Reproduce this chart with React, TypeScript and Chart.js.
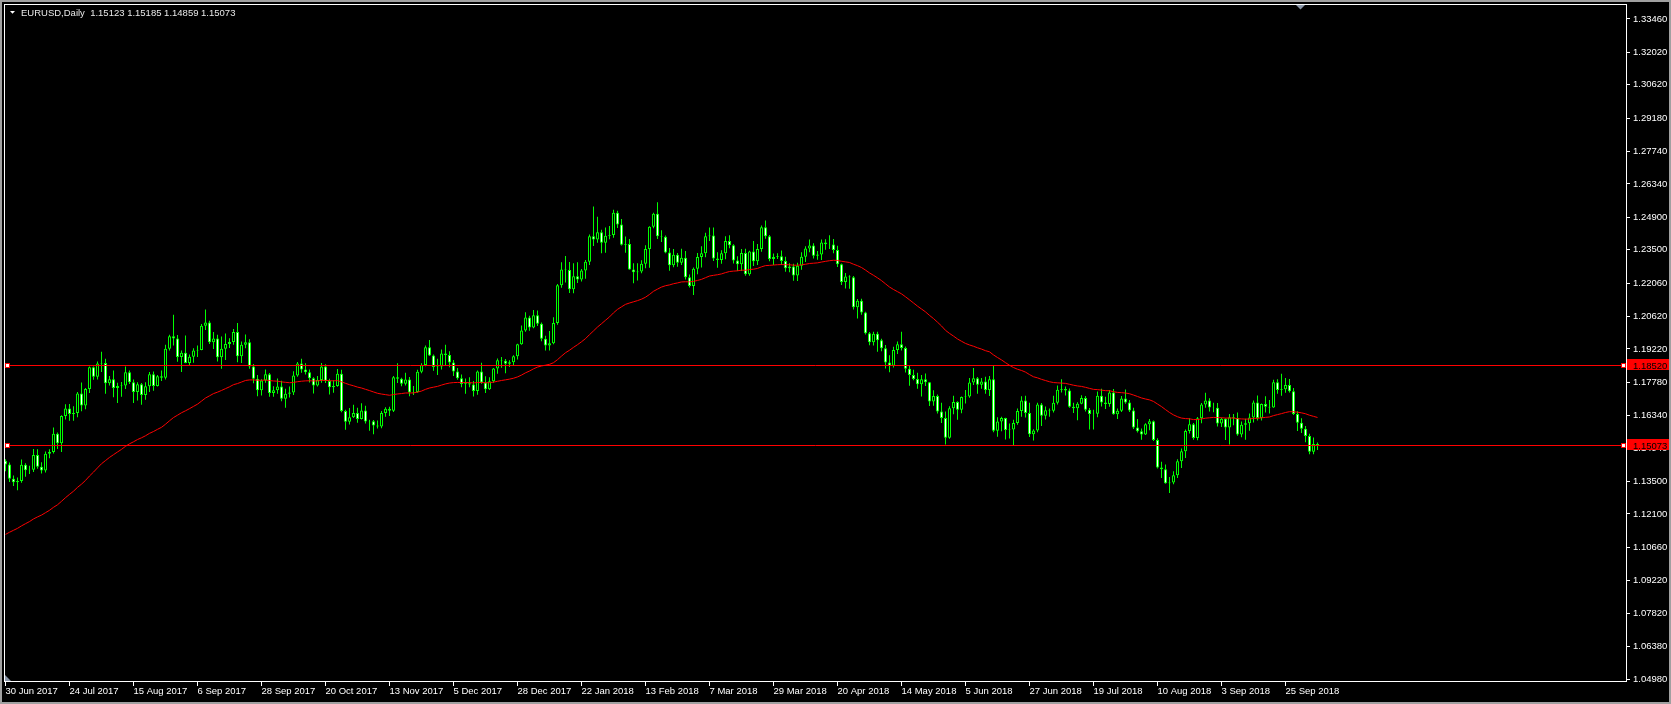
import React, { useEffect, useRef } from 'react';
import { Chart, registerables } from 'chart.js';

Chart.register(...registerables);

// ---------------- DATA ----------------
const symbolTitle = 'EURUSD,Daily';
const headerOHLC = ['1.15123', '1.15185', '1.14859', '1.15073'];
const firstOpen = 1.144;
const maPeriod = 50; // exponential moving average (MT4 "Moving Average", EMA 50)
const maSeed = 1.07; // EMA value before the warm-up closes

// closes before the first visible bar (warm-up of the moving average)
const priorCloses = [
  1.0855, 1.0933, 1.0884, 1.0874, 1.0895, 1.0903, 1.093, 1.088, 1.0982, 1.0999,
  1.0925, 1.0875, 1.0866, 1.086, 1.0932, 1.0981, 1.1077, 1.1158, 1.1102, 1.1206,
  1.1242, 1.1182, 1.1184, 1.1214, 1.1182, 1.1164, 1.1178, 1.1244, 1.1212, 1.1282,
  1.1256, 1.1274, 1.126, 1.1213, 1.1197, 1.1206, 1.1211, 1.1215, 1.1151, 1.1197,
  1.1149, 1.1134, 1.1167, 1.115, 1.1196, 1.1181, 1.1337, 1.1374, 1.144,
];

const closes = [
  1.1424, 1.1362, 1.1347, 1.1352, 1.1422, 1.1399, 1.1401, 1.1465, 1.1414, 1.1398,
  1.147, 1.1477, 1.1556, 1.1515, 1.1633, 1.1665, 1.1642, 1.1646, 1.173, 1.1678,
  1.1749, 1.1843, 1.1802, 1.1859, 1.1862, 1.1774, 1.1791, 1.1754, 1.1762, 1.1765,
  1.1822, 1.1779, 1.1736, 1.177, 1.1724, 1.1761, 1.1813, 1.1762, 1.1804, 1.1798,
  1.1923, 1.1977, 1.1967, 1.1887, 1.1906, 1.1862, 1.1889, 1.1915, 1.1918, 1.2022,
  1.2036, 1.1951, 1.1967, 1.1886, 1.1923, 1.1944, 1.1952, 1.1995, 1.1891, 1.194,
  1.1951, 1.1846, 1.1794, 1.1744, 1.1786, 1.1813, 1.1732, 1.1744, 1.176, 1.1707,
  1.1729, 1.1734, 1.1808, 1.1859, 1.1834, 1.1822, 1.1796, 1.1765, 1.1788, 1.1846,
  1.1784, 1.1757, 1.1762, 1.1815, 1.1654, 1.1608, 1.1627, 1.1646, 1.162, 1.1657,
  1.1609, 1.161, 1.1592, 1.1588, 1.1646, 1.1664, 1.1655, 1.18, 1.1794, 1.1772,
  1.179, 1.1734, 1.1736, 1.1824, 1.1853, 1.193, 1.1894, 1.1844, 1.1846, 1.1903,
  1.1896, 1.1864, 1.1825, 1.1796, 1.1771, 1.1774, 1.1769, 1.1741, 1.1825, 1.1777,
  1.1748, 1.1783, 1.1838, 1.1873, 1.1871, 1.1858, 1.1865, 1.1891, 1.1942, 1.2002,
  1.2058, 1.2015, 1.2068, 1.2031, 1.1966, 1.1937, 1.1947, 1.2034, 1.2197, 1.2265,
  1.2263, 1.218, 1.2236, 1.2222, 1.2261, 1.2298, 1.2408, 1.2395, 1.2426, 1.2381,
  1.2411, 1.2414, 1.251, 1.2459, 1.2372, 1.2375, 1.2265, 1.2253, 1.2256, 1.229,
  1.2354, 1.2449, 1.2506, 1.2408, 1.2406, 1.2338, 1.2283, 1.2329, 1.2294, 1.2316,
  1.2232, 1.2194, 1.2268, 1.2319, 1.2335, 1.2408, 1.2412, 1.2313, 1.2306, 1.2335,
  1.2388, 1.237, 1.2304, 1.2288, 1.2336, 1.2245, 1.2343, 1.2301, 1.2353, 1.2447,
  1.2408, 1.231, 1.2319, 1.2322, 1.2302, 1.227, 1.2278, 1.2239, 1.2281, 1.232,
  1.2356, 1.2369, 1.2324, 1.233, 1.2382, 1.2374, 1.2373, 1.2349, 1.2288, 1.2211,
  1.2235, 1.2232, 1.2102, 1.213, 1.2079, 1.199, 1.1951, 1.1988, 1.196, 1.1925,
  1.1864, 1.185, 1.1918, 1.1942, 1.1926, 1.1837, 1.181, 1.1793, 1.177, 1.1792,
  1.1779, 1.1695, 1.1719, 1.1652, 1.1624, 1.1539, 1.1666, 1.1693, 1.166, 1.1715,
  1.1717, 1.1777, 1.1796, 1.1768, 1.1782, 1.1745, 1.1791, 1.1569, 1.1609, 1.1624,
  1.1572, 1.1575, 1.1603, 1.1654, 1.17, 1.1646, 1.1554, 1.157, 1.1683, 1.1634,
  1.1658, 1.1656, 1.169, 1.1746, 1.1749, 1.1743, 1.1673, 1.1666, 1.1686, 1.1711,
  1.166, 1.1642, 1.1643, 1.172, 1.1691, 1.1685, 1.1734, 1.164, 1.1656, 1.1708,
  1.1691, 1.1657, 1.1583, 1.1567, 1.1553, 1.1597, 1.161, 1.1529, 1.1411, 1.1403,
  1.1343, 1.1346, 1.1377, 1.1438, 1.1481, 1.1568, 1.1597, 1.1538, 1.1623, 1.1682,
  1.17, 1.167, 1.1668, 1.16, 1.1621, 1.1583, 1.1627, 1.1624, 1.1553, 1.1595,
  1.1602, 1.1626, 1.1691, 1.1624, 1.1685, 1.1673, 1.167, 1.1779, 1.1745, 1.1748,
  1.1767, 1.174, 1.1641, 1.1604, 1.1578, 1.1547, 1.1479, 1.15123, 1.15073,
];

const highs = [
  1.1446, 1.1432, 1.1376, 1.1368, 1.1445, 1.1429, 1.1418, 1.149, 1.1489, 1.1433,
  1.148, 1.1489, 1.1583, 1.1562, 1.1636, 1.1684, 1.1685, 1.1675, 1.1736, 1.1777,
  1.1754, 1.1847, 1.1846, 1.1868, 1.191, 1.188, 1.1805, 1.1829, 1.1776, 1.178,
  1.1846, 1.1829, 1.179, 1.1779, 1.1775, 1.1779, 1.1823, 1.1825, 1.181, 1.1829,
  1.194, 1.1984, 1.207, 1.1982, 1.1915, 1.198, 1.1898, 1.1925, 1.1937, 1.203,
  1.2092, 1.2044, 1.1995, 1.1984, 1.1976, 1.1989, 1.1968, 1.2008, 1.2034, 1.1954,
  1.1985, 1.1964, 1.1857, 1.181, 1.1791, 1.1833, 1.1818, 1.1761, 1.1795, 1.1785,
  1.175, 1.176, 1.1826, 1.1866, 1.188, 1.1861, 1.1834, 1.18, 1.1806, 1.1862,
  1.1856, 1.1794, 1.1787, 1.1836, 1.1832, 1.166, 1.1667, 1.1681, 1.1669, 1.1688,
  1.1677, 1.1617, 1.1616, 1.1614, 1.1654, 1.1671, 1.1673, 1.1806, 1.1861, 1.1798,
  1.182, 1.1801, 1.1762, 1.1832, 1.1861, 1.1937, 1.1961, 1.1898, 1.188, 1.192,
  1.194, 1.1912, 1.1874, 1.184, 1.1812, 1.1795, 1.18, 1.1784, 1.1829, 1.1863,
  1.1804, 1.18, 1.184, 1.1881, 1.1888, 1.1879, 1.1873, 1.1895, 1.1945, 1.2023,
  1.2081, 1.2065, 1.209, 1.2088, 1.2036, 1.1979, 1.2, 1.2059, 1.2203, 1.2296,
  1.2323, 1.2297, 1.2292, 1.2296, 1.2267, 1.2306, 1.2416, 1.2537, 1.2493, 1.2437,
  1.2446, 1.2453, 1.2523, 1.2519, 1.2483, 1.2407, 1.2397, 1.2292, 1.2292, 1.2305,
  1.237, 1.2452, 1.251, 1.2555, 1.2434, 1.2412, 1.2358, 1.2353, 1.2336, 1.2355,
  1.2345, 1.2244, 1.2274, 1.2336, 1.2365, 1.2424, 1.2446, 1.2446, 1.234, 1.2348,
  1.2409, 1.2413, 1.2374, 1.2322, 1.2354, 1.2355, 1.2346, 1.2388, 1.2375, 1.2455,
  1.2476, 1.2414, 1.2334, 1.2335, 1.2347, 1.232, 1.2292, 1.229, 1.2294, 1.234,
  1.2365, 1.2395, 1.2378, 1.2345, 1.2395, 1.2396, 1.2413, 1.2397, 1.2368, 1.2291,
  1.225, 1.224, 1.2237, 1.2138, 1.2139, 1.2083, 1.1995, 1.1996, 1.1996, 1.1966,
  1.1939, 1.1895, 1.1932, 1.1954, 1.1996, 1.1933, 1.1852, 1.1832, 1.182, 1.181,
  1.1816, 1.178, 1.1744, 1.1726, 1.169, 1.1652, 1.1675, 1.172, 1.1697, 1.1717,
  1.1745, 1.1797, 1.184, 1.1801, 1.1797, 1.1802, 1.1805, 1.1852, 1.1628, 1.163,
  1.1625, 1.16, 1.1617, 1.1665, 1.1718, 1.172, 1.169, 1.1576, 1.169, 1.1689,
  1.1674, 1.1665, 1.172, 1.1765, 1.1791, 1.176, 1.1752, 1.169, 1.1692, 1.1722,
  1.1719, 1.1667, 1.166, 1.1739, 1.175, 1.1716, 1.1745, 1.1749, 1.1665, 1.1719,
  1.1747, 1.1702, 1.1668, 1.162, 1.1579, 1.1602, 1.162, 1.1613, 1.1537, 1.1435,
  1.1424, 1.137, 1.1394, 1.1446, 1.1493, 1.1575, 1.1623, 1.1603, 1.1629, 1.1689,
  1.1733, 1.1709, 1.169, 1.1689, 1.1625, 1.1623, 1.1641, 1.1642, 1.1648, 1.1609,
  1.1621, 1.1644, 1.17, 1.1721, 1.1687, 1.1718, 1.1702, 1.1789, 1.1791, 1.1815,
  1.1797, 1.1793, 1.1754, 1.1653, 1.1623, 1.159, 1.1556, 1.154, 1.15185,
];

const lows = [
  1.1394, 1.1348, 1.1331, 1.1312, 1.1345, 1.1371, 1.1383, 1.1391, 1.1405, 1.1385,
  1.1389, 1.1451, 1.1471, 1.149, 1.1478, 1.1618, 1.1612, 1.1612, 1.1628, 1.1653,
  1.1662, 1.1732, 1.1789, 1.179, 1.1823, 1.1729, 1.1765, 1.1714, 1.1689, 1.1716,
  1.1749, 1.1771, 1.1689, 1.17, 1.1681, 1.1703, 1.1736, 1.1742, 1.176, 1.1784,
  1.179, 1.1915, 1.1937, 1.1867, 1.1823, 1.186, 1.1853, 1.1863, 1.1887, 1.1917,
  1.2004, 1.1944, 1.1922, 1.1868, 1.1837, 1.1875, 1.1926, 1.194, 1.1865, 1.1862,
  1.1925, 1.1837, 1.1774, 1.1718, 1.1721, 1.1776, 1.1716, 1.1716, 1.1729, 1.1696,
  1.1669, 1.1713, 1.1724, 1.1802, 1.1819, 1.1812, 1.1777, 1.173, 1.176, 1.1776,
  1.1775, 1.1726, 1.1733, 1.1759, 1.1649, 1.1574, 1.1596, 1.1624, 1.1604, 1.1618,
  1.16, 1.1569, 1.1554, 1.1579, 1.158, 1.163, 1.1633, 1.165, 1.1775, 1.1761,
  1.1764, 1.1718, 1.1723, 1.1733, 1.1817, 1.1848, 1.1892, 1.1828, 1.181, 1.1834,
  1.1849, 1.1843, 1.1806, 1.1789, 1.1757, 1.1729, 1.1757, 1.1717, 1.1725, 1.1772,
  1.1732, 1.1745, 1.1776, 1.1815, 1.1841, 1.1817, 1.1844, 1.1852, 1.1877, 1.194,
  1.1996, 1.2001, 1.2011, 1.2021, 1.1955, 1.1915, 1.1916, 1.1943, 1.2027, 1.2186,
  1.2209, 1.2164, 1.2163, 1.2207, 1.2213, 1.2225, 1.2285, 1.2366, 1.2381, 1.2335,
  1.2337, 1.2396, 1.2402, 1.2444, 1.2369, 1.2337, 1.2264, 1.2206, 1.2218, 1.2249,
  1.227, 1.2273, 1.2443, 1.2397, 1.2384, 1.2335, 1.226, 1.2275, 1.2277, 1.2284,
  1.2222, 1.2187, 1.2155, 1.2245, 1.2274, 1.2318, 1.2388, 1.2302, 1.2273, 1.229,
  1.2309, 1.2357, 1.2291, 1.2259, 1.2259, 1.2238, 1.2238, 1.228, 1.2285, 1.2342,
  1.2398, 1.2301, 1.2285, 1.231, 1.2285, 1.2255, 1.2253, 1.2216, 1.2215, 1.2264,
  1.2297, 1.234, 1.2313, 1.2307, 1.2306, 1.235, 1.2353, 1.2335, 1.2276, 1.2198,
  1.2183, 1.2182, 1.2092, 1.2054, 1.207, 1.1985, 1.1938, 1.1937, 1.191, 1.1912,
  1.1838, 1.1822, 1.1842, 1.19, 1.1916, 1.1821, 1.1763, 1.1787, 1.175, 1.1717,
  1.1762, 1.1676, 1.1677, 1.1644, 1.1603, 1.151, 1.1535, 1.164, 1.1617, 1.1645,
  1.1687, 1.1712, 1.1767, 1.1729, 1.1751, 1.1729, 1.1719, 1.1563, 1.1543, 1.1567,
  1.1531, 1.1536, 1.1508, 1.1595, 1.163, 1.1626, 1.1542, 1.1527, 1.1563, 1.159,
  1.1618, 1.163, 1.1648, 1.1682, 1.1734, 1.1721, 1.1668, 1.1646, 1.1615, 1.1684,
  1.1652, 1.1575, 1.1575, 1.1628, 1.1674, 1.1663, 1.1673, 1.1638, 1.162, 1.165,
  1.1686, 1.165, 1.1577, 1.1562, 1.153, 1.1551, 1.1571, 1.1525, 1.1406, 1.1365,
  1.134, 1.1301, 1.1338, 1.1365, 1.1408, 1.1452, 1.1557, 1.153, 1.1528, 1.1602,
  1.1668, 1.1652, 1.1649, 1.1588, 1.1585, 1.1529, 1.151, 1.1593, 1.1548, 1.1541,
  1.153, 1.1569, 1.1605, 1.1614, 1.1613, 1.1648, 1.1644, 1.1668, 1.1729, 1.172,
  1.1733, 1.1734, 1.1637, 1.1568, 1.156, 1.152, 1.1468, 1.1468, 1.14859,
];

const xTickIndex = [0, 16, 32, 48, 64, 80, 96, 112, 128, 144, 160, 176, 192, 208, 224, 240, 256, 272, 288, 304, 320];
const xTickLabels = [
  '30 Jun 2017', '24 Jul 2017', '15 Aug 2017', '6 Sep 2017', '28 Sep 2017', '20 Oct 2017',
  '13 Nov 2017', '5 Dec 2017', '28 Dec 2017', '22 Jan 2018', '13 Feb 2018', '7 Mar 2018',
  '29 Mar 2018', '20 Apr 2018', '14 May 2018', '5 Jun 2018', '27 Jun 2018', '19 Jul 2018',
  '10 Aug 2018', '3 Sep 2018', '25 Sep 2018',
];
const yTickValues = [
  1.3346, 1.3202, 1.3062, 1.2918, 1.2774, 1.2634, 1.249, 1.235, 1.2206, 1.2062, 1.1922,
  1.1778, 1.1634, 1.1494, 1.135, 1.121, 1.1066, 1.0922, 1.0782, 1.0638, 1.0498,
];
const hLineLevels = [1.1852, 1.15073];

// ---------------- DERIVED ----------------
const N = Math.min(closes.length, highs.length, lows.length);
const opens = closes.slice(0, N).map((c, i) => (i === 0 ? firstOpen : closes[i - 1]));
const emaAlpha = 2 / (maPeriod + 1);
let emaRun = maSeed;
priorCloses.forEach((c) => {
  emaRun = emaRun + emaAlpha * (c - emaRun);
});
const maValues: number[] = [];
closes.slice(0, N).forEach((c) => {
  emaRun = emaRun + emaAlpha * (c - emaRun);
  maValues.push(emaRun);
});

const LIME = '#00ff00';
const RED = '#ff0000';
const FONT_FAMILY = "'Liberation Sans', Arial, sans-serif";
const FONT_SIZE = 9.5;

const Y_MIN = 1.048937;
const Y_MAX = 1.340641;
const X_MIN = -0.125;
const X_MAX = 405.125;

const mt4Plugin = {
  id: 'mt4Look',
  beforeDraw(chart: any) {
    const { ctx, width, height } = chart;
    ctx.save();
    ctx.fillStyle = '#000000';
    ctx.fillRect(0, 0, width, height);
    ctx.restore();
  },
  afterDraw(chart: any) {
    const { ctx, width, height, chartArea: ca } = chart;
    const yScale = chart.scales.y;
    ctx.save();
    ctx.font = `${FONT_SIZE}px ${FONT_FAMILY}`;

    // horizontal price lines with labels
    hLineLevels.forEach((lvl) => {
      const py = Math.round(yScale.getPixelForValue(lvl) - 0.5) + 0.5;
      ctx.strokeStyle = RED;
      ctx.lineWidth = 1;
      ctx.beginPath();
      ctx.moveTo(ca.left, py);
      ctx.lineTo(ca.right, py);
      ctx.stroke();
      // anchor squares
      [ca.left, ca.right - 5].forEach((ax) => {
        ctx.fillStyle = RED;
        ctx.fillRect(ax, py - 2.5, 5, 5);
        ctx.fillStyle = '#ffffff';
        ctx.fillRect(ax + 1, py - 1.5, 3, 3);
      });
      // price label box
      ctx.fillStyle = RED;
      ctx.fillRect(ca.right + 1, py - 6.5, width - ca.right - 1, 11);
      ctx.fillStyle = '#000000';
      ctx.textBaseline = 'middle';
      ctx.textAlign = 'left';
      ctx.fillText(lvl.toFixed(5), ca.right + 7, py + 0.5);
    });

    // plot frame
    ctx.strokeStyle = '#ffffff';
    ctx.lineWidth = 1;
    ctx.strokeRect(ca.left - 0.5, ca.top - 0.5, ca.right - ca.left + 1, ca.bottom - ca.top + 1);

    // outer grey window frame
    ctx.fillStyle = '#a0a0a0';
    ctx.fillRect(0, 0, width, 2);
    ctx.fillRect(0, height - 2, width, 2);
    ctx.fillRect(0, 0, 2, height);
    ctx.fillRect(width - 2, 0, 2, height);

    // header
    ctx.fillStyle = '#ffffff';
    ctx.beginPath();
    ctx.moveTo(10, 11);
    ctx.lineTo(15, 11);
    ctx.lineTo(12.5, 13.8);
    ctx.closePath();
    ctx.fill();
    ctx.fillStyle = '#e8e8e8';
    ctx.textBaseline = 'middle';
    ctx.textAlign = 'left';
    ctx.fillText(`${symbolTitle}  ${headerOHLC.join(' ')}`, 21, 13);

    // shift marker at top and corner marker at bottom-left
    ctx.fillStyle = '#8a96a8';
    ctx.beginPath();
    ctx.moveTo(1296, 5);
    ctx.lineTo(1305, 5);
    ctx.lineTo(1300.5, 9.5);
    ctx.closePath();
    ctx.fill();
    ctx.beginPath();
    ctx.moveTo(ca.left, ca.bottom - 6);
    ctx.lineTo(ca.left, ca.bottom);
    ctx.lineTo(ca.left + 6, ca.bottom);
    ctx.closePath();
    ctx.fill();

    ctx.restore();
  },
};

export default function App() {
  const canvasRef = useRef<HTMLCanvasElement | null>(null);

  useEffect(() => {
    const canvas = canvasRef.current;
    if (!canvas) return;
    const font = { family: FONT_FAMILY, size: FONT_SIZE };

    const chart = new Chart(canvas, {
      type: 'bar',
      data: {
        datasets: [
          {
            type: 'line',
            label: 'MA',
            data: maValues.map((v, i) => ({ x: i, y: v })),
            borderColor: RED,
            borderWidth: 1,
            pointRadius: 0,
            tension: 0,
            fill: false,
            order: 0,
          } as any,
          {
            type: 'bar',
            label: 'body',
            data: opens.map((o, i) => ({ x: i, y: [o, closes[i]] })),
            backgroundColor: opens.map((o, i) => (closes[i] >= o ? '#000000' : '#ffffff')),
            borderColor: LIME,
            borderWidth: 1,
            borderSkipped: false,
            barThickness: 3,
            grouped: false,
            inflateAmount: 0,
            order: 1,
          } as any,
          {
            type: 'bar',
            label: 'wick',
            data: lows.slice(0, N).map((l, i) => ({ x: i, y: [l, highs[i]] })),
            backgroundColor: LIME,
            borderWidth: 0,
            barThickness: 1,
            grouped: false,
            inflateAmount: 0,
            order: 2,
          } as any,
        ],
      },
      options: {
        responsive: false,
        animation: false,
        devicePixelRatio: 1,
        events: [],
        layout: { padding: { left: 5, top: 5, right: 0, bottom: 0 } },
        plugins: {
          legend: { display: false },
          tooltip: { enabled: false },
          title: { display: false },
        },
        scales: {
          x: {
            type: 'linear',
            min: X_MIN,
            max: X_MAX,
            offset: false,
            grid: {
              offset: false,
              drawOnChartArea: false,
              drawTicks: true,
              tickLength: 5,
              color: '#ffffff',
              lineWidth: 1,
            },
            border: { display: false },
            afterBuildTicks: (s: any) => {
              s.ticks = xTickIndex.map((v) => ({ value: v }));
            },
            afterFit: (s: any) => {
              s.height = 23;
              s.paddingLeft = 0;
              s.paddingRight = 0;
            },
            ticks: {
              autoSkip: false,
              maxRotation: 0,
              minRotation: 0,
              align: 'start',
              color: '#ffffff',
              padding: 0,
              font,
              callback: (v: any) => {
                const k = xTickIndex.indexOf(Number(v));
                return k >= 0 ? xTickLabels[k] : '';
              },
            },
          },
          y: {
            type: 'linear',
            position: 'right',
            min: Y_MIN,
            max: Y_MAX,
            grid: {
              drawOnChartArea: false,
              drawTicks: true,
              tickLength: 4,
              color: '#ffffff',
              lineWidth: 1,
            },
            border: { display: false },
            afterBuildTicks: (s: any) => {
              s.ticks = yTickValues.map((v) => ({ value: v }));
            },
            afterFit: (s: any) => {
              s.width = 45;
              s.paddingTop = 0;
              s.paddingBottom = 0;
            },
            ticks: {
              autoSkip: false,
              color: '#ffffff',
              padding: 3,
              font,
              callback: (v: any) => Number(v).toFixed(5),
            },
          },
        },
      } as any,
      plugins: [mt4Plugin],
    });

    return () => chart.destroy();
  }, []);

  return (
    <div style={{ position: 'fixed', left: 0, top: 0, width: 1671, height: 704, background: '#000' }}>
      <canvas ref={canvasRef} width={1671} height={704} style={{ display: 'block' }} />
    </div>
  );
}
